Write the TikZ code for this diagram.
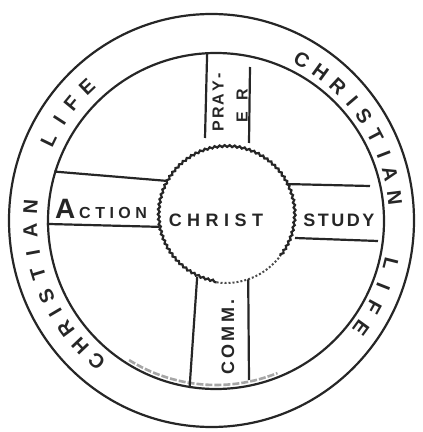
\documentclass[tikz,border=0pt]{standalone}
\usepackage{fontspec}
\setmainfont{Liberation Sans}
\usetikzlibrary{shapes.geometric,decorations.pathmorphing}
\makeatletter
\newcommand\spreadtext[2]{\@tfor\sp@c:=#2\do{\sp@c\hskip#1\relax}\unskip}
\makeatother
\begin{document}
\begin{tikzpicture}[x=1pt,y=1pt,
  ink/.style={line width=2.2pt, draw=black!85},
  ringletter/.style={font=\fontsize{20}{20}\selectfont\bfseries, inner sep=0pt, text=black!85},
  hand/.style={inner sep=0pt, text=black!85, font=\fontsize{18}{18}\selectfont\bfseries},
  smudge/.style={line width=2.6pt, draw=black!35, dash pattern=on 7pt off 2pt}]
\useasboundingbox (0,0) rectangle (423,432);
% rings
\node[ink, draw, ellipse, minimum width=405pt, minimum height=413pt, inner sep=0pt] (outer) at (211.5,211.5) {};
\node[ink, draw, circle, minimum size=336pt, inner sep=0pt] (inner) at (216,211) {};
\draw[smudge] (inner.center) ++(238:164) arc[start angle=238, end angle=292, radius=164];
% central circle
\node[circle, minimum size=136pt, inner sep=0pt] (christ) at (226,217) {};
\draw[ink, decorate, decoration={snake, amplitude=0.9pt, segment length=5pt}]
  (christ.center) ++(-37:68) arc[start angle=-37, end angle=262, radius=68];
\draw[line width=2pt, draw=black!70, dotted]
  (christ.center) ++(262:68) arc[start angle=262, end angle=323, radius=68];
\node[hand] (christtext) at (216,212) {\spreadtext{5.5pt}{CHRIST}};
% top spoke (PRAY-ER)
\coordinate (pl) at (205,294);
\coordinate (pr1) at (250,365);
\coordinate (pr2) at (249,289);
\draw[ink] (inner.93.8) -- (pl);
\draw[ink] (pr1) -- (pr2);
\node[hand, rotate=90, font=\fontsize{16}{16}\selectfont\bfseries] (pray) at (218,329.5) {\spreadtext{2pt}{PRAY-}};
\node[hand, rotate=90, font=\fontsize{16}{16}\selectfont\bfseries] (er) at (242,326.5) {\spreadtext{11pt}{ER}};
% left spoke (ACTION)
\draw[ink] (inner.163.1) -- (christ.150.9);
\draw[ink] (inner.181.4) -- (christ.190);
\node[hand, font=\fontsize{16}{16}\selectfont\bfseries] (action) at (101,223)
  {{\fontsize{28}{28}\selectfont A}\hskip4pt\spreadtext{4.5pt}{CTION}};
% right spoke (STUDY)
\coordinate (st) at (370,246);
\coordinate (u1) at (295,194);
\coordinate (u2) at (378,191);
\draw[ink] (christ.27.3) -- (st);
\draw[ink] (u1) -- (u2);
\node[hand] (study) at (339,212) {\spreadtext{2.5pt}{STUDY}};
% bottom spoke (COMM.)
\coordinate (cm) at (249,52);
\draw[ink] (christ.245.7) -- (inner.261.8);
\draw[ink] (christ.289.7) -- (cm);
\node[hand, rotate=90] (comm) at (228,95) {\spreadtext{3.5pt}{COMM.}};
% ring text
\begin{scope}[shift={(213,212)}]
\foreach \l/\a [count=\i, evaluate=\a as \r using \a-90] in
  {C/61,H/54,R/47,I/40.5,S/34.5,T/27.5,I/21,A/14.5,N/7,L/-14,I/-21.5,F/-28.5,E/-36}
  \node[ringletter, rotate=\r] (rr\i) at (\a:183) {\l};
\foreach \l/\a [count=\i, evaluate=\a as \r using \a-90] in
  {C/230.5,H/223.5,R/216.5,I/210.5,S/204.5,T/197,I/190.5,A/183.5,N/176,L/154,I/147,F/140.5,E/133.5}
  \node[ringletter, rotate=\r] (rl\i) at (\a:183) {\l};
\end{scope}
\end{tikzpicture}
\end{document}
